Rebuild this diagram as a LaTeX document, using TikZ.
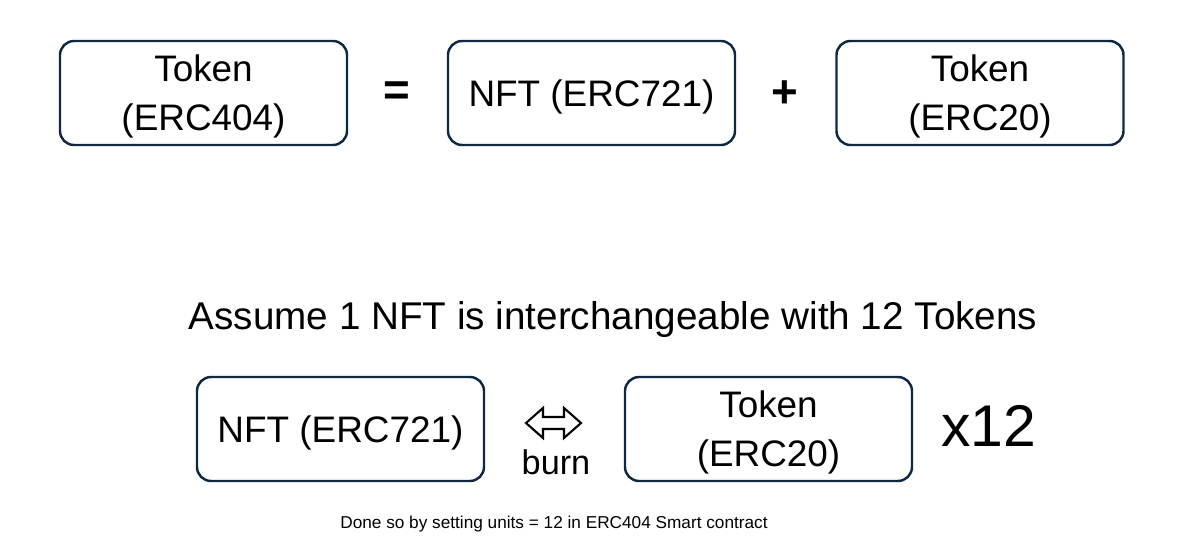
\documentclass[tikz,border=0pt]{standalone}
\usepackage{fontspec}
\setmainfont{Liberation Sans}
\definecolor{boxline}{HTML}{0E2841}

\begin{document}
\begin{tikzpicture}[x=0.02cm,y=-0.02cm,
  tokbox/.style={draw=boxline, line width=1.4pt, rounded corners=8pt,
    minimum width=287*0.02cm, minimum height=104*0.02cm},
  boxtext/.style={align=center, font=\fontsize{21}{28}\selectfont, yshift=-0.07cm},
  sign/.style={font=\fontsize{26}{30}\selectfont\bfseries}]

\useasboundingbox (0,0) rectangle (1184,558);
\coordinate (A) at (203.5,93);
\coordinate (B) at (397,94);
\coordinate (C) at (591.5,93);
\coordinate (D) at (785,94);
\coordinate (E) at (980,93);
\coordinate (F) at (613,320);
\coordinate (G) at (340.5,429);
\coordinate (H) at (553.5,423);
\coordinate (I) at (768.5,429);
\coordinate (J) at (989,426);
\coordinate (K) at (554,524);
\coordinate (L) at (556,462);

\node [tokbox, label={[boxtext]center:Token\\(ERC404)}] (erc404) at (A) {};
\node [sign] (eq) at (B) {=};
\node [tokbox, label={[boxtext]center:NFT (ERC721)}] (nft) at (C) {};
\node [sign] (plus) at (D) {+};
\node [tokbox, label={[boxtext]center:Token\\(ERC20)}] (erc20) at (E) {};
\node [font=\fontsize{22}{26}\selectfont] (assume) at (F) {Assume 1 NFT is interchangeable with 12 Tokens};
\node [tokbox, label={[boxtext]center:NFT (ERC721)}] (nftb) at (G) {};
\draw [line width=1.2pt, line join=miter, shift={(H)}]
  (-27.5,0) -- (-10.5,-15) -- (-10.5,-6) -- (10.5,-6) -- (10.5,-15) -- (27.5,0)
  -- (10.5,15) -- (10.5,6) -- (-10.5,6) -- (-10.5,15) -- cycle;
\node [font=\fontsize{19.5}{22}\selectfont] (burn) at (L) {burn};
\node [tokbox, label={[boxtext]center:Token\\(ERC20)}] (erc20b) at (I) {};
\node [font=\fontsize{33.5}{40}\selectfont] (times) at (J) {x12};
\node [font=\fontsize{9.8}{12}\selectfont] (note) at (K) {Done so by setting units = 12 in ERC404 Smart contract};
\end{tikzpicture}
\end{document}
